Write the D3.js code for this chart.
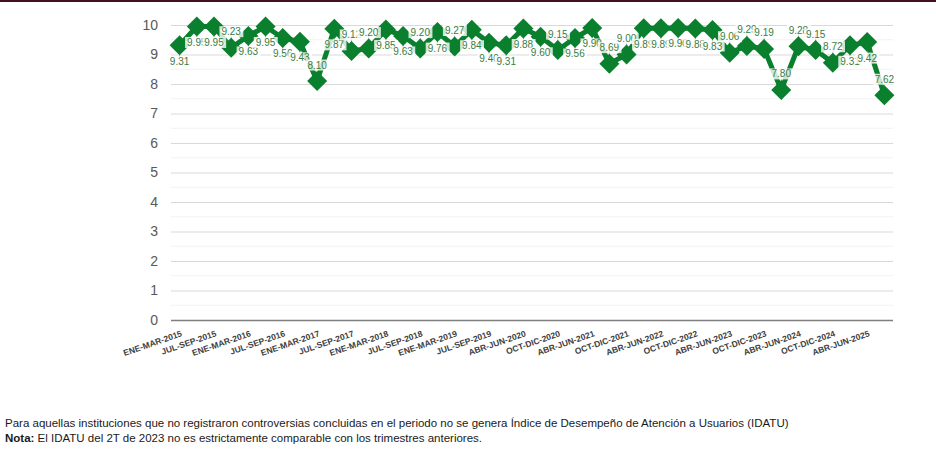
<!DOCTYPE html>
<html>
<head>
<meta charset="utf-8">
<script src="https://cdn.jsdelivr.net/npm/d3@7"></script>
<style>
  html, body { margin: 0; padding: 0; background: #ffffff; }
  svg { display: block; font-family: "Liberation Sans", Arial, sans-serif; }
</style>
</head>
<body>
<svg id="chart" width="936" height="454"></svg>
<script>
// ---- data ----
const categories = [
  "ENE-MAR-2015","ABR-JUN-2015","JUL-SEP-2015","OCT-DIC-2015",
  "ENE-MAR-2016","ABR-JUN-2016","JUL-SEP-2016","OCT-DIC-2016",
  "ENE-MAR-2017","ABR-JUN-2017","JUL-SEP-2017","OCT-DIC-2017",
  "ENE-MAR-2018","ABR-JUN-2018","JUL-SEP-2018","OCT-DIC-2018",
  "ENE-MAR-2019","ABR-JUN-2019","JUL-SEP-2019","OCT-DIC-2019",
  "ABR-JUN-2020","JUL-SEP-2020","OCT-DIC-2020",
  "ENE-MAR-2021","ABR-JUN-2021","JUL-SEP-2021","OCT-DIC-2021",
  "ENE-MAR-2022","ABR-JUN-2022","JUL-SEP-2022","OCT-DIC-2022",
  "ENE-MAR-2023","ABR-JUN-2023","JUL-SEP-2023","OCT-DIC-2023",
  "ENE-MAR-2024","ABR-JUN-2024","JUL-SEP-2024","OCT-DIC-2024",
  "ENE-MAR-2025","ABR-JUN-2025","JUL-SEP-2025"
];
const idatu = [
  9.31, 9.95, 9.95, 9.23, 9.63, 9.95, 9.56, 9.43,
  8.10, 9.87, 9.12, 9.20, 9.85, 9.63, 9.20, 9.76,
  9.27, 9.84, 9.40, 9.31, 9.88, 9.60, 9.15, 9.56,
  9.90, 8.69, 9.00, 9.89, 9.89, 9.90, 9.88, 9.83,
  9.06, 9.29, 9.19, 7.80, 9.28, 9.15, 8.72, 9.31,
  9.42, 7.62
];
// data-label placement relative to each point ("a" above, "b" below)
const labelSide = [
  "b","b","b","a","b","b","b","b",
  "a","b","a","a","b","b","a","b",
  "a","b","b","b","b","b","a","b",
  "b","a","a","b","b","b","b","b",
  "a","a","a","a","a","a","a","b",
  "b","a"
];
const yTicks = [0,1,2,3,4,5,6,7,8,9,10];
const noteLine1 = "Para aquellas instituciones que no registraron controversias concluidas en el periodo no se genera Índice de Desempeño de Atención a Usuarios (IDATU)";
const noteBold = "Nota:";
const noteLine2 = " El IDATU del 2T de 2023 no es estrictamente comparable con los trimestres anteriores.";

// ---- layout ----
const svg = d3.select("#chart");
const plot = { left: 171, right: 893, top: 25, bottom: 320 };
const green = "#0a7f2e";

svg.append("rect").attr("x", 0).attr("y", 0).attr("width", 936).attr("height", 2).attr("fill", "#42101f");

const x = d3.scaleBand().domain(categories).range([plot.left, plot.right]).paddingInner(0).paddingOuter(0);
const xc = d => x(d) + x.bandwidth() / 2;
const y = d3.scaleLinear().domain([0, 10]).range([plot.bottom, plot.top]);

// minor grid (half units)
const minor = d3.range(0.5, 10, 1);
svg.append("g").selectAll("line").data(minor).join("line")
  .attr("x1", plot.left).attr("x2", plot.right)
  .attr("y1", d => y(d)).attr("y2", d => y(d))
  .attr("stroke", "#f2f2f2").attr("stroke-width", 1);

// y axis with major gridlines
const yAxis = d3.axisLeft(y).tickValues(yTicks).tickFormat(d3.format("d"))
  .tickSize(-(plot.right - plot.left)).tickPadding(13);
const gy = svg.append("g").attr("transform", `translate(${plot.left},0)`).call(yAxis);
gy.select(".domain").remove();
gy.selectAll(".tick line").attr("stroke", "#d9d9d9").attr("stroke-width", 1);
gy.selectAll(".tick text").attr("fill", "#595959").attr("font-size", 14)
  .attr("font-family", "Liberation Sans, Arial, sans-serif");
gy.selectAll(".tick").filter(d => d === 0).select("line").attr("stroke", "#7f7f7f").attr("stroke-width", 1.3);

// x axis labels (every other category)
const xAxis = d3.axisBottom(x).tickValues(categories.filter((c, i) => i % 2 === 0)).tickSize(0).tickPadding(0);
const gx = svg.append("g").attr("transform", `translate(0,${plot.bottom})`).call(xAxis);
gx.select(".domain").remove();
gx.selectAll(".tick text")
  .attr("fill", "#404040").attr("font-size", 8.5).attr("font-weight", "bold")
  .attr("font-family", "Liberation Sans, Arial, sans-serif")
  .attr("text-anchor", "end")
  .attr("y", 0).attr("dy", 0)
  .attr("transform", "translate(3,16) rotate(-19)");

// series line
const line = d3.line().x((d, i) => xc(categories[i])).y(d => y(d));
svg.append("path").datum(idatu).attr("d", line)
  .attr("fill", "none").attr("stroke", green).attr("stroke-width", 5)
  .attr("stroke-linejoin", "round");

// leader lines
const labelY = (v, i) => y(v) + (labelSide[i] === "a" ? -16 : 16);
svg.append("g").selectAll("line").data(idatu).join("line")
  .attr("x1", (d, i) => xc(categories[i])).attr("x2", (d, i) => xc(categories[i]))
  .attr("y1", (d, i) => y(d)).attr("y2", (d, i) => labelY(d, i))
  .attr("stroke", "#a6a6a6").attr("stroke-width", 1);

// diamond markers
svg.append("g").selectAll("path").data(idatu).join("path")
  .attr("transform", (d, i) => `translate(${xc(categories[i])},${y(d)})`)
  .attr("d", "M0,-10L10,0L0,10L-10,0Z")
  .attr("fill", green);

// data labels
const lg = svg.append("g");
idatu.forEach((v, i) => {
  const cx = xc(categories[i]);
  const cy = labelY(v, i);
  const g = lg.append("g").attr("transform", `translate(${cx},${cy})`);
  const rect = g.append("rect").attr("fill", "#ffffff").attr("fill-opacity", 0.8);
  const t = g.append("text").text(d3.format(".2f")(v))
    .attr("text-anchor", "middle").attr("dy", "0.35em")
    .attr("font-size", 10).attr("fill", "#3a7d44")
    .attr("font-family", "Liberation Sans, Arial, sans-serif");
  const bb = t.node().getBBox();
  rect.attr("x", bb.x - 2).attr("y", bb.y).attr("width", bb.width + 4).attr("height", bb.height);
});

// notes
svg.append("text").attr("x", 5).attr("y", 427).attr("font-size", 11.5).attr("fill", "#1a1a1a")
  .text(noteLine1);
const n2 = svg.append("text").attr("x", 5).attr("y", 442).attr("font-size", 11.5).attr("fill", "#1a1a1a");
n2.append("tspan").attr("font-weight", "bold").text(noteBold);
n2.append("tspan").text(noteLine2);
</script>
</body>
</html>
